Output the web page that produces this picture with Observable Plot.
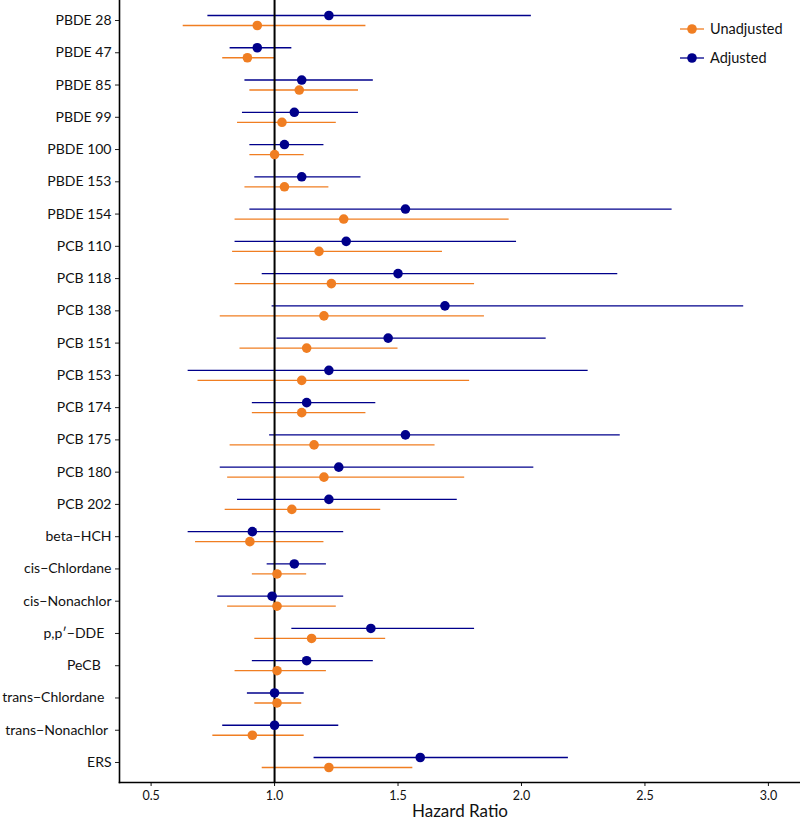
<!DOCTYPE html>
<html>
<head>
<meta charset="utf-8">
<script src="https://cdn.jsdelivr.net/npm/d3@7"></script>
<script src="https://cdn.jsdelivr.net/npm/@observablehq/plot@0.6"></script>
<style>
  body { margin: 0; background: #fff; font-family: Lato, "Noto Sans", sans-serif; }
  #wrap { position: relative; width: 800px; height: 823px; }
  #legend { position: absolute; left: 680px; top: 14px; font-size: 14.5px; color: #111; }
  .item { display: flex; align-items: center; height: 29px; }
  .item svg { margin-right: 6px; }
</style>
</head>
<body>
<div id="wrap"><div id="legend"></div></div>
<script>
const compounds = ["PBDE 28","PBDE 47","PBDE 85","PBDE 99","PBDE 100","PBDE 153","PBDE 154",
  "PCB 110","PCB 118","PCB 138","PCB 151","PCB 153","PCB 174","PCB 175","PCB 180","PCB 202",
  "beta\u2212HCH","cis\u2212Chlordane","cis\u2212Nonachlor","p,p\u2032\u2212DDE","PeCB",
  "trans\u2212Chlordane","trans\u2212Nonachlor","ERS"];

const unadjHR = [0.93,0.89,1.10,1.03,1.00,1.04,1.28,1.18,1.23,1.20,1.13,1.11,1.11,1.16,1.20,1.07,0.90,1.01,1.01,1.15,1.01,1.01,0.91,1.22];
const unadjLo = [0.63,0.79,0.90,0.85,0.90,0.88,0.84,0.83,0.84,0.78,0.86,0.69,0.91,0.82,0.81,0.80,0.68,0.91,0.81,0.92,0.84,0.92,0.75,0.95];
const unadjHi = [1.37,1.00,1.34,1.25,1.12,1.22,1.95,1.68,1.81,1.85,1.50,1.79,1.37,1.65,1.77,1.43,1.20,1.13,1.25,1.45,1.21,1.11,1.12,1.56];

const adjHR = [1.22,0.93,1.11,1.08,1.04,1.11,1.53,1.29,1.50,1.69,1.46,1.22,1.13,1.53,1.26,1.22,0.91,1.08,0.99,1.39,1.13,1.00,1.00,1.59];
const adjLo = [0.73,0.82,0.88,0.87,0.90,0.92,0.90,0.84,0.95,0.99,1.01,0.65,0.91,0.98,0.78,0.85,0.65,0.97,0.77,1.07,0.91,0.89,0.79,1.16];
const adjHi = [2.04,1.07,1.40,1.34,1.20,1.35,2.61,1.98,2.39,2.90,2.10,2.27,1.41,2.40,2.05,1.74,1.28,1.21,1.28,1.81,1.40,1.12,1.26,2.19];

const seriesNames = ["Unadjusted","Adjusted"];
const seriesColors = ["#F07E22","#00008B"];
const xTicks = [0.5,1.0,1.5,2.0,2.5,3.0];
// labels that carry trailing blanks in the original figure
const trailingBlanks = {"p,p\u2032\u2212DDE": 2, "PeCB": 3, "trans\u2212Chlordane": 2, "trans\u2212Nonachlor": 1};

const rows = [];
compounds.forEach((c, i) => {
  rows.push({name: c, series: "Adjusted", hr: adjHR[i], lo: adjLo[i], hi: adjHi[i]});
  rows.push({name: c, series: "Unadjusted", hr: unadjHR[i], lo: unadjLo[i], hi: unadjHi[i]});
});
const adj = rows.filter(d => d.series === "Adjusted");
const unadj = rows.filter(d => d.series === "Unadjusted");

const chart = Plot.plot({
  width: 800,
  height: 823,
  marginLeft: 119,
  marginRight: 0,
  marginTop: 0,
  marginBottom: 41,
  style: {fontFamily: "Lato, 'Noto Sans', sans-serif", color: "#111", background: "#fff"},
  x: {domain: [0.372, 3.13]},
  y: {type: "point", domain: compounds, padding: 0.62, round: false},
  marks: [
    Plot.ruleY(adj, {y: "name", x1: "lo", x2: "hi", dy: -5, stroke: seriesColors[1], strokeWidth: 1.3}),
    Plot.ruleY(unadj, {y: "name", x1: "lo", x2: "hi", dy: 5, stroke: seriesColors[0], strokeWidth: 1.3}),
    Plot.ruleX([1], {stroke: "#000", strokeWidth: 2}),
    Plot.dot(adj, {x: "hr", y: "name", dy: -5, r: 4.8, fill: seriesColors[1], stroke: "none"}),
    Plot.dot(unadj, {x: "hr", y: "name", dy: 5, r: 4.8, fill: seriesColors[0], stroke: "none"}),
    Plot.axisY({tickSize: 4, tickPadding: 4, fontSize: 14, label: null, stroke: "#222",
      tickFormat: d => d + "\u00a0".repeat(trailingBlanks[d] || 0)}),
    Plot.axisX({ticks: xTicks, tickFormat: d3.format(".1f"), tickSize: 4, tickPadding: 5, fontSize: 12.5,
      label: "Hazard Ratio", labelAnchor: "center", labelOffset: 34, labelArrow: "none"}),
    Plot.frame({anchor: "left", stroke: "#000", strokeWidth: 1.6}),
    Plot.frame({anchor: "bottom", stroke: "#000", strokeWidth: 1.6})
  ]
});
chart.querySelectorAll("g[aria-label='x-axis label'] text").forEach(t => t.setAttribute("font-size", "17"));
document.getElementById("wrap").prepend(chart);

const legend = document.getElementById("legend");
seriesNames.forEach((s, i) => {
  const div = document.createElement("div");
  div.className = "item";
  div.innerHTML = `<svg width="24" height="12"><line x1="0" x2="24" y1="6" y2="6" stroke="${seriesColors[i]}" stroke-width="1.3"/><circle cx="12" cy="6" r="4.8" fill="${seriesColors[i]}"/></svg><span>${s}</span>`;
  legend.appendChild(div);
});
</script>
</body>
</html>
